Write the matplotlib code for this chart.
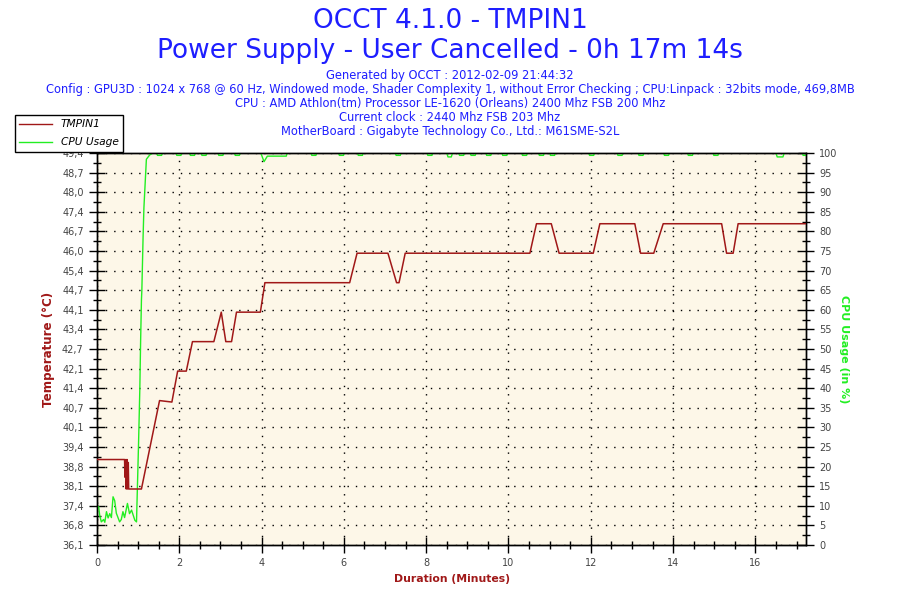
import numpy as np
import matplotlib
matplotlib.use("Agg")
import matplotlib.pyplot as plt
from matplotlib.lines import Line2D
from matplotlib.ticker import MultipleLocator, FixedLocator

# temperature TMPIN1 (deg C) vs time (minutes)
temp_t = [0, 0.67, 0.68, 0.70, 0.71, 0.73, 0.74, 0.76, 0.77, 1.08, 1.52, 1.82,
          1.96, 2.17, 2.32, 2.84, 3.02, 3.13, 3.27, 3.39, 3.97, 4.08, 6.14, 6.32,
          7.07, 7.28, 7.34, 7.49, 10.52, 10.68, 11.04, 11.23, 12.06, 12.22, 13.07,
          13.21, 13.53, 13.76, 15.18, 15.30, 15.46, 15.58, 17.23]
temp_v = [39, 39, 38.4, 39, 38, 39, 38, 38.9, 38, 38, 41, 40.95,
          42, 42, 43, 43, 44, 43, 43, 44, 44, 45, 45, 46,
          46, 45, 45, 46, 46, 47, 47, 46, 46, 47, 47,
          46, 46, 47, 47, 46, 46, 47, 47]

# CPU usage (%) vs time (minutes)
cpu_t = [0.0, 0.04, 0.065, 0.105, 0.16, 0.19, 0.23, 0.27, 0.31, 0.35, 0.39, 0.43,
         0.47, 0.51, 0.55, 0.59, 0.63, 0.67, 0.74, 0.79, 0.84, 0.88, 0.92, 0.96,
         0.98, 1.01, 1.04, 1.06, 1.08, 1.09, 1.12, 1.14, 1.18, 1.20, 1.28, 1.36,
         1.45, 1.47, 1.57, 1.59, 1.92, 1.94, 2.04, 2.06, 2.25, 2.27, 2.37, 2.39,
         2.53, 2.55, 2.65, 2.67, 2.94, 2.96, 3.06, 3.08, 3.34, 3.36, 3.46, 3.48,
         3.98, 4.06, 4.14, 4.60, 4.62, 5.20, 5.22, 5.32, 5.34, 5.87, 5.89, 5.99, 6.01,
         6.33, 6.35, 6.45, 6.47, 7.25, 7.27, 7.37, 7.39, 8.02, 8.04, 8.14, 8.16,
         8.50, 8.53, 8.61, 8.64, 8.79, 8.81, 8.91, 8.93, 9.07, 9.09, 9.19, 9.21,
         9.45, 9.47, 9.57, 9.59, 9.84, 9.86, 9.96, 9.98, 10.32, 10.34, 10.44, 10.46,
         10.73, 10.75, 10.85, 10.87, 11.00, 11.02, 11.12, 11.14, 11.95, 11.97, 12.07, 12.09,
         12.64, 12.66, 12.76, 12.78, 13.15, 13.17, 13.27, 13.29, 13.77, 13.79, 13.89, 13.91,
         14.35, 14.37, 14.47, 14.49, 14.97, 14.99, 15.09, 15.11, 16.50, 16.53, 16.67, 16.70,
         17.14, 17.16, 17.23]
cpu_v = [9.4, 9.8, 7.6, 5.9, 6.5, 5.8, 8.5, 6.9, 8.0, 7.0, 12.3, 11.3,
         8.1, 7.0, 5.9, 6.5, 8.5, 7.0, 10.6, 8.0, 8.9, 7.6, 6.3, 5.9,
         14, 26, 39.5, 52, 62.5, 65, 78.6, 86, 94, 98.4, 99.5, 100,
         100, 99.4, 99.4, 100, 100, 99.4, 99.4, 100, 100, 99.4, 99.4, 100,
         100, 99.4, 99.4, 100, 100, 99.4, 99.4, 100, 100, 99.4, 99.4, 100,
         100, 97.8, 99.2, 99.2, 100, 100, 99.4, 99.4, 100, 100, 99.4, 99.4, 100,
         100, 99.4, 99.4, 100, 100, 99.4, 99.4, 100, 100, 99.4, 99.4, 100,
         100, 99.0, 99.0, 100, 100, 99.4, 99.4, 100, 100, 99.4, 99.4, 100,
         100, 99.4, 99.4, 100, 100, 99.4, 99.4, 100, 100, 99.4, 99.4, 100,
         100, 99.4, 99.4, 100, 100, 99.4, 99.4, 100, 100, 99.4, 99.4, 100,
         100, 99.4, 99.4, 100, 100, 99.4, 99.4, 100, 100, 99.4, 99.4, 100,
         100, 99.4, 99.4, 100, 100, 99.4, 99.4, 100, 100, 99.0, 99.0, 100,
         100, 99.4, 99.4]

temp_labels = ['36,1', '36,8', '37,4', '38,1', '38,8', '39,4', '40,1', '40,7',
               '41,4', '42,1', '42,7', '43,4', '44,1', '44,7', '45,4', '46,0',
               '46,7', '47,4', '48,0', '48,7', '49,4']
cpu_ticks = list(range(0, 101, 5))

title_lines = ['OCCT 4.1.0 - TMPIN1', 'Power Supply - User Cancelled - 0h 17m 14s']
info_lines = ['Generated by OCCT : 2012-02-09 21:44:32',
              'Config : GPU3D : 1024 x 768 @ 60 Hz, Windowed mode, Shader Complexity 1, '
              'without Error Checking ; CPU:Linpack : 32bits mode, 469,8MB',
              'CPU : AMD Athlon(tm) Processor LE-1620 (Orleans) 2400 Mhz FSB 200 Mhz',
              'Current clock : 2440 Mhz FSB 203 Mhz',
              'MotherBoard : Gigabyte Technology Co., Ltd.: M61SME-S2L']

BLUE = '#1e1eff'
RED = '#a01818'
GREEN = '#22ee22'
GREY = '#444444'

plt.rcParams['font.family'] = ['DejaVu Sans']

fig = plt.figure(figsize=(9, 6), dpi=100)
ax = fig.add_axes([97 / 900, 1 - 545 / 600, (806 - 97) / 900, (545 - 153) / 600])
ax.set_facecolor('#fdf7e8')
ax2 = ax.twinx()

tmin, tmax = 36.1, 49.4
ax.set_xlim(0, 17.23)
ax.set_ylim(tmin, tmax)
ax2.set_ylim(0, 100)

# temperature ticks line up with cpu ticks
temp_ticks = np.linspace(tmin, tmax, len(temp_labels))
ax.yaxis.set_major_locator(FixedLocator(temp_ticks))
ax.set_yticklabels(temp_labels)
ax.yaxis.set_minor_locator(FixedLocator((temp_ticks[:-1] + temp_ticks[1:]) / 2))
ax2.set_yticks(cpu_ticks)
ax2.yaxis.set_minor_locator(MultipleLocator(2.5))
ax.xaxis.set_major_locator(MultipleLocator(2))
ax.xaxis.set_minor_locator(MultipleLocator(0.5))

for a in (ax, ax2):
    a.tick_params(which='major', direction='inout', length=11, width=1,
                  labelsize=7, labelcolor=GREY, color='black', pad=4)
    a.tick_params(which='minor', direction='inout', length=6, width=1, color='black')
    for s in a.spines.values():
        s.set_linewidth(1)
ax.tick_params(which='both', top=False, right=False, labelright=False, labeltop=False)
ax2.tick_params(which='both', top=False, left=False, bottom=False, labelbottom=False)

ax.grid(True, which='major', color='black', linestyle=(0, (1, 5)), linewidth=1)

ax2.plot(cpu_t, cpu_v, color=GREEN, linewidth=1, zorder=2)
ax2.plot(temp_t, (np.array(temp_v) - tmin) / (tmax - tmin) * 100, color=RED,
         linewidth=1.1, zorder=3)

ax.set_xlabel('Duration (Minutes)', color=RED, fontsize=7.8, fontweight='bold', labelpad=4)
ax.set_ylabel('Temperature (°C)', color=RED, fontsize=8.6, fontweight='bold', labelpad=5)
ax2.set_ylabel('CPU Usage (in %)', color=GREEN, fontsize=8, fontweight='bold',
               rotation=270, labelpad=8)

# titles
fig.text(0.5, 1 - 21 / 600, title_lines[0], ha='center', va='center', color=BLUE, fontsize=19)
fig.text(0.5, 1 - 51 / 600, title_lines[1], ha='center', va='center', color=BLUE, fontsize=19)
for i, line in enumerate(info_lines):
    fig.text(0.5, 1 - (76 + i * 13.8) / 600, line, ha='center', va='center',
             color=BLUE, fontsize=8.3)

handles = [Line2D([], [], color=RED, linewidth=1), Line2D([], [], color=GREEN, linewidth=1)]
leg = fig.legend(handles, ['TMPIN1', 'CPU Usage'], loc='upper left',
                 bbox_to_anchor=(15 / 900, 1 - 115 / 600), frameon=True, fancybox=False,
                 edgecolor='black', framealpha=1, borderpad=0.4, handlelength=3.1,
                 handletextpad=0.8, labelspacing=0.75, borderaxespad=0,
                 prop={'style': 'italic', 'size': 7.7})
leg.get_frame().set_linewidth(1)

fig.savefig('out.png', dpi=100, facecolor='white')
